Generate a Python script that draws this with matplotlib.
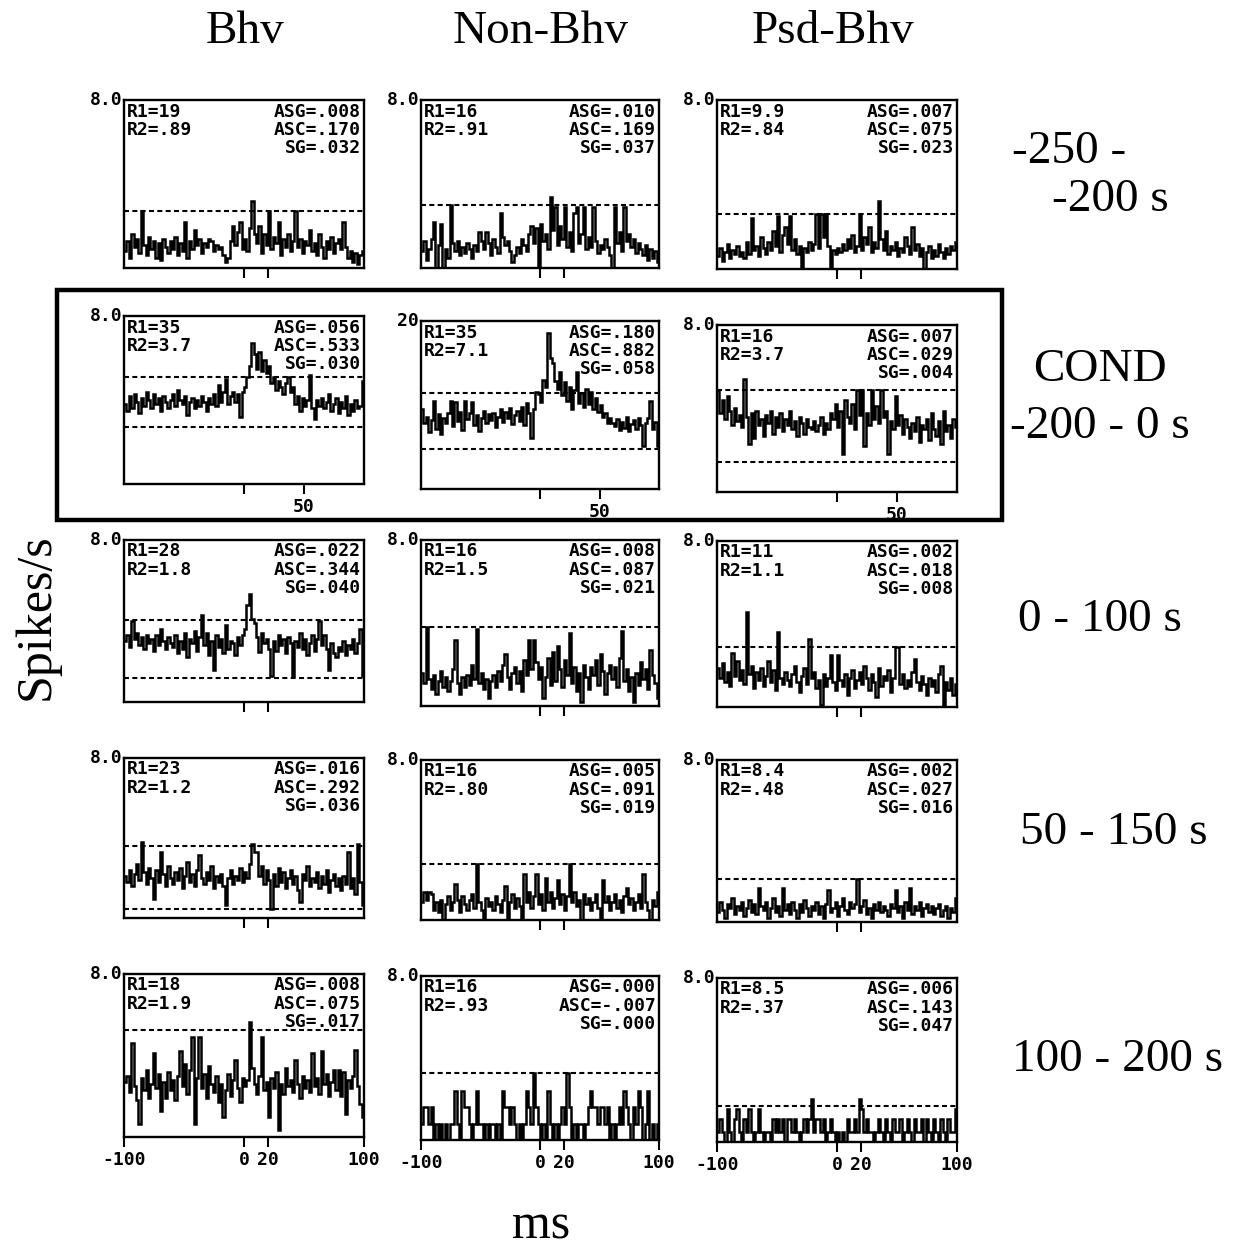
import matplotlib
matplotlib.use("Agg")
import matplotlib.pyplot as plt
import numpy as np
from matplotlib.patches import Rectangle

# ---------------- data ----------------
BIN_EDGES = np.arange(-100, 101, 2)   # ms, 2-ms bins

col_titles = ["Bhv", "Non-Bhv", "Psd-Bhv"]
row_labels = [["-250 -", "-200 s"], ["COND", "-200 - 0 s"], ["0 - 100 s"],
              ["50 - 150 s"], ["100 - 200 s"]]

ymax = [[8.0, 8.0, 8.0], [8.0, 20, 8.0], [8.0, 8.0, 8.0], [8.0, 8.0, 8.0], [8.0, 8.0, 8.0]]
ymax_labels = [["8.0", "8.0", "8.0"], ["8.0", "20", "8.0"], ["8.0", "8.0", "8.0"],
               ["8.0", "8.0", "8.0"], ["8.0", "8.0", "8.0"]]

# (upper, lower) significance bounds, spikes/s
bounds = [[(2.7, None), (3.0, None), (2.6, None)],
          [(5.1, 2.7), (11.4, 4.75), (4.9, 1.44)],
          [(4.07, 1.2), (3.8, None), (2.9, None)],
          [(3.6, 0.44), (2.8, None), (2.1, None)],
          [(5.25, None), (3.25, None), (1.75, None)]]

# (R1, R2, ASG, ASC, SG)
stats = [[("19", ".89", ".008", ".170", ".032"), ("16", ".91", ".010", ".169", ".037"), ("9.9", ".84", ".007", ".075", ".023")],
         [("35", "3.7", ".056", ".533", ".030"), ("35", "7.1", ".180", ".882", ".058"), ("16", "3.7", ".007", ".029", ".004")],
         [("28", "1.8", ".022", ".344", ".040"), ("16", "1.5", ".008", ".087", ".021"), ("11", "1.1", ".002", ".018", ".008")],
         [("23", "1.2", ".016", ".292", ".036"), ("16", ".80", ".005", ".091", ".019"), ("8.4", ".48", ".002", ".027", ".016")],
         [("18", "1.9", ".008", ".075", ".017"), ("16", ".93", ".000", "-.007", ".000"), ("8.5", ".37", ".006", ".143", ".047")]]

r1_bhv = [0.8,1.3,0.5,1.6,1.0,1.4,0.7,2.7,1.1,0.6, 1.5,0.9,1.3,0.5,1.2,0.4,1.4,1.0,0.7,1.3,
          0.9,1.5,0.6,1.2,0.8,2.2,0.5,1.3,0.9,1.8, 1.1,1.4,0.7,1.2,1.0,1.4,1.3,0.8,1.1,0.9,
          1.0,0.6,0.3,0.5,1.3,2.0,1.1,1.7,2.2,0.9, 1.4,0.8,1.9,3.2,1.6,1.2,2.0,0.7,1.6,1.1,
          2.7,0.9,1.5,1.2,2.2,0.6,1.4,1.0,1.6,0.8, 1.3,2.7,1.0,1.4,0.7,1.3,1.1,1.8,0.8,1.2,
          0.6,1.6,1.0,0.5,1.3,0.9,1.5,0.7,1.2,1.4, 0.9,2.2,1.0,0.5,0.8,0.3,0.7,0.2,0.6,0.8]
r1_non = [0.8,1.3,0.4,0.9,1.4,2.2,0.0,1.1,2.1,0.0, 0.9,0.5,3.0,1.2,0.8,1.3,0.6,1.0,0.7,1.2,
          0.9,0.5,1.1,0.8,1.7,1.3,0.9,1.7,1.2,0.6, 1.4,1.0,0.7,2.6,1.5,1.1,1.3,0.8,0.3,0.6,
          1.0,0.7,1.4,1.1,0.8,1.6,2.0,1.2,1.9,0.0, 2.1,1.3,1.6,0.9,3.4,1.8,2.9,1.1,2.0,1.4,
          2.9,1.0,1.7,0.8,2.6,2.9,1.2,1.6,2.9,0.9, 1.5,1.0,2.9,1.3,0.7,1.1,0.9,1.4,1.0,0.6,
          0.0,2.9,1.2,1.7,0.8,2.9,1.3,1.6,1.0,1.4, 0.7,1.2,0.9,0.6,1.1,0.4,0.9,0.5,0.8,0.3]
r1_psd = [0.6,1.0,0.4,0.8,1.2,0.5,0.9,0.7,1.1,0.6, 0.8,0.5,1.3,0.7,2.4,0.9,1.1,0.6,1.5,1.0,
          0.7,1.3,0.9,1.8,1.1,2.5,0.8,1.6,2.0,1.2, 2.5,0.9,1.4,0.7,1.1,0.0,1.0,0.8,1.3,0.9,
          1.2,2.6,1.0,2.6,1.5,2.6,1.1,0.0,0.9,0.7, 1.0,0.8,1.2,0.9,1.4,1.0,1.6,0.8,1.1,2.6,
          0.9,1.5,1.2,2.0,0.8,1.3,1.0,3.2,1.4,0.9, 1.8,0.7,1.1,0.9,1.3,0.6,1.0,0.8,1.5,1.1,
          0.7,2.0,0.9,1.2,0.6,1.0,0.0,0.8,1.1,0.5, 0.9,0.6,1.2,0.8,0.5,1.0,0.7,1.1,0.9,1.3]

r2_bhv = [3.8,3.5,4.2,3.6,4.3,3.9,3.4,4.1,3.7,4.4, 4.0,3.6,4.3,3.8,4.1,3.5,4.2,3.9,3.6,4.0,
          4.3,3.7,4.5,4.0,3.8,4.2,3.3,3.9,4.1,3.6, 4.0,3.7,4.2,3.9,3.5,4.1,3.8,4.3,3.7,4.7,
          3.9,4.4,5.0,3.8,4.2,4.4,3.9,4.3,3.2,4.4, 4.6,5.1,5.6,6.7,6.2,5.5,6.3,5.4,5.9,5.3,
          5.6,4.8,5.1,4.5,4.9,4.6,4.3,4.8,5.1,4.4, 4.6,3.8,4.2,3.5,4.1,3.7,4.0,5.2,3.6,3.1,
          4.0,3.7,4.1,3.6,3.9,4.3,3.5,3.8,4.1,3.4, 3.9,3.6,4.2,3.3,3.8,3.5,4.0,3.6,3.7,4.9]
r2_non = [9.5,7.8,8.6,6.8,8.2,10.5,7.2,8.9,6.6,8.4, 7.9,9.0,10.5,7.5,10.3,8.1,9.2,7.0,10.5,8.3,
          9.1,10.4,7.6,8.8,6.9,8.5,9.3,7.8,8.9,8.2, 9.0,7.4,8.6,9.5,8.0,9.2,8.4,9.6,7.7,8.8,
          9.3,8.1,9.8,7.6,10.2,9.0,6.1,9.5,11.5,11.3, 10.4,13.0,12.2,18.6,15.6,15.0,12.8,11.9,13.9,11.2,
          12.7,10.5,12.1,9.5,11.8,13.9,10.2,11.4,9.8,11.9, 10.1,11.5,9.5,10.8,9.2,10.0,8.6,9.0,7.9,8.5,
          7.8,7.5,8.3,7.0,8.0,7.3,8.6,6.9,7.7,8.2, 7.1,8.4,7.6,5.1,7.9,8.5,10.5,7.2,8.0,5.1]
r2_psd = [4.9,3.8,4.4,3.5,4.6,3.9,3.2,4.0,3.4,3.7, 3.1,5.4,3.6,2.3,3.8,2.6,3.9,3.2,3.5,2.7,
          3.7,3.3,3.9,2.8,3.6,3.1,3.8,2.9,3.5,3.2, 3.9,3.0,3.4,2.7,3.6,3.3,2.8,3.5,3.1,3.0,
          3.4,2.9,3.2,3.6,2.8,3.3,3.0,3.8,3.5,4.2, 3.1,3.9,1.8,4.4,3.6,3.3,4.2,3.0,4.9,3.7,
          4.9,2.2,3.8,3.2,4.9,3.5,4.1,3.3,4.9,3.6, 3.9,1.8,3.4,3.0,4.6,3.2,3.7,2.8,3.5,3.1,
          2.6,3.3,2.9,3.6,2.4,3.2,3.0,3.5,2.5,3.8, 3.0,2.7,3.4,2.3,3.9,2.9,3.2,2.6,3.5,3.1]

r3_bhv = [3.0,3.3,2.7,4.0,3.1,3.4,2.8,3.2,2.6,3.3, 2.9,3.1,2.5,3.3,2.8,3.6,3.0,2.6,3.2,2.9,
          2.7,3.3,2.4,3.0,2.6,3.4,2.2,3.1,2.9,3.5, 2.5,3.2,4.3,2.8,3.4,2.3,3.0,1.6,3.3,2.7,
          3.1,2.4,3.8,2.6,3.0,2.9,2.3,3.2,2.8,3.3, 3.6,4.8,5.35,4.1,3.9,3.2,2.45,3.4,2.9,3.1,
          2.6,1.3,3.0,2.5,3.3,2.8,3.1,2.4,3.2,2.9, 1.3,3.0,2.7,3.4,2.6,3.1,2.3,2.9,3.3,2.5,
          3.1,4.0,2.8,3.3,2.6,1.6,2.9,2.4,2.2,2.7, 2.5,3.0,2.3,2.8,2.6,3.1,2.4,2.9,3.6,1.3]
r3_non = [1.6,1.1,3.8,1.3,0.8,1.5,0.6,1.2,1.7,0.9, 1.4,0.7,1.2,1.8,3.2,1.1,0.6,1.4,0.9,1.5,
          1.0,2.0,1.3,3.7,1.1,1.6,0.8,1.3,0.4,1.2, 1.5,0.9,1.7,1.2,2.0,2.5,1.4,0.8,1.6,1.9,
          1.1,1.7,0.7,2.2,1.5,3.2,1.8,3.2,2.1,1.3, 1.9,0.4,1.4,2.3,1.0,2.6,1.2,2.9,1.8,0.9,
          2.2,1.5,3.5,1.1,1.9,0.7,1.6,0.2,2.0,1.4, 0.8,1.9,1.5,2.2,1.0,2.5,1.7,0.6,1.6,2.0,
          1.3,1.9,0.9,2.3,3.6,1.2,1.8,0.7,1.4,0.2, 1.6,1.0,2.1,1.3,1.8,0.8,2.7,1.5,1.1,0.4]
r3_psd = [1.9,1.4,2.1,1.2,1.7,1.0,2.6,1.5,2.2,1.3, 1.8,1.1,4.6,1.6,2.0,0.9,1.7,1.3,1.9,1.0,
          1.5,2.2,1.2,1.8,0.8,3.6,1.4,1.1,1.7,1.3, 1.0,1.6,2.0,1.2,0.7,1.5,1.9,1.1,3.3,1.4,
          1.7,0.9,1.3,0.1,1.6,1.0,1.4,2.5,1.2,0.8, 2.5,1.3,1.0,1.6,0.6,1.4,1.8,0.9,1.3,1.7,
          1.1,2.0,1.4,0.8,1.6,1.2,0.5,1.9,1.0,1.5, 1.3,1.8,0.7,1.4,2.9,2.9,1.1,1.6,0.9,1.3,
          1.0,1.7,2.3,1.2,0.8,1.5,1.1,0.6,1.4,1.0, 1.3,0.7,1.6,2.0,0.1,1.2,0.8,1.4,0.6,1.1]

r4_bhv = [2.1,1.8,2.4,1.6,2.2,2.7,1.9,3.8,2.3,1.7, 2.5,2.0,0.97,2.4,1.8,3.3,2.2,1.6,2.6,2.0,
          1.7,2.3,1.9,2.5,1.5,2.1,2.8,1.8,2.2,1.6, 2.4,3.15,2.0,1.7,2.3,1.9,2.6,1.5,2.1,1.8,
          2.2,1.6,0.64,2.0,2.4,1.7,2.1,1.9,2.5,1.8, 2.3,2.0,2.7,3.7,3.3,3.3,2.1,2.6,1.7,2.4,
          1.9,0.47,2.2,1.6,2.5,1.8,2.3,1.5,2.0,2.4, 1.7,2.1,1.4,0.8,2.2,1.9,2.6,1.6,2.0,1.8,
          2.3,1.5,2.1,1.7,2.4,1.3,1.9,2.2,1.6,2.0, 1.4,2.1,1.7,3.3,1.5,2.0,1.2,3.7,1.8,0.64]
r4_non = [0.9,1.4,1.0,1.4,1.3,0.5,0.9,0.4,1.0,0.0, 0.8,1.2,0.5,0.9,1.8,1.0,0.4,1.2,0.8,0.5,
          1.0,1.3,0.6,2.8,0.9,0.5,0.0,1.1,0.7,0.9, 0.5,1.2,0.8,0.4,1.0,1.7,0.0,0.9,1.3,0.6,
          1.1,0.7,0.0,2.3,0.9,1.4,0.6,1.2,2.3,0.8, 1.3,0.5,2.1,0.9,1.4,0.6,1.1,2.0,0.8,1.3,
          0.5,1.2,2.8,0.9,1.4,0.7,1.0,0.0,1.3,0.8, 1.1,0.5,0.9,1.3,0.6,0.0,2.0,0.9,1.2,0.5,
          0.9,1.3,0.6,1.0,0.4,1.2,1.6,0.8,1.1,0.5, 0.9,1.3,0.6,2.3,0.9,0.5,0.0,1.0,0.7,1.4]
r4_psd = [0.5,1.0,0.6,0.2,0.9,0.7,1.2,0.4,0.8,0.6, 1.0,0.3,0.7,1.1,0.5,0.9,0.4,1.7,0.8,0.6,
          1.0,0.2,0.7,1.2,0.5,0.8,0.3,1.7,0.6,0.9, 0.4,1.0,0.6,0.2,0.9,0.5,1.1,0.7,0.3,0.8,
          0.6,1.0,0.4,0.8,0.2,0.9,1.6,0.5,0.7,1.0, 0.3,0.8,1.2,0.6,0.4,1.0,0.7,0.9,2.1,0.5,
          0.8,1.1,0.4,0.7,0.2,0.9,0.6,1.0,0.5,0.8, 0.6,0.3,0.9,0.7,1.6,0.5,0.8,0.2,1.0,0.6,
          1.7,0.4,0.8,0.6,1.0,0.3,0.7,0.9,0.5,0.8, 0.4,0.7,0.9,0.3,0.6,0.8,0.2,0.7,0.5,1.2]

r5_bhv = [2.7,3.0,2.2,4.6,2.5,1.8,0.66,2.9,2.3,3.3, 1.9,2.6,4.1,2.4,3.1,1.3,2.7,1.9,3.2,2.3,
          2.8,1.8,3.0,4.2,2.5,3.6,2.1,3.3,4.9,0.66, 2.9,4.9,2.4,3.1,1.9,3.5,2.6,2.2,3.0,1.7,
          2.6,1.0,2.3,3.1,2.0,2.8,3.8,2.4,1.7,2.9, 2.5,2.8,5.65,3.4,2.6,2.1,3.0,4.9,2.3,2.7,
          1.0,2.9,2.4,3.2,0.33,2.6,2.1,3.4,2.5,2.8, 2.2,3.8,2.6,1.9,3.0,2.4,2.8,2.2,4.1,2.5,
          2.9,2.1,4.2,2.6,3.1,2.0,2.7,3.3,2.3,3.3, 2.0,3.2,1.15,2.8,2.4,3.0,4.25,2.5,1.6,1.0]
r5_non = [0.8,1.6,1.6,0.8,1.6,0.0,0.8,0.0,0.8,0.0, 0.8,0.0,0.8,0.8,2.4,0.8,0.0,2.4,1.6,1.6,
          0.8,0.0,0.8,2.4,0.8,0.8,0.0,0.8,0.0,0.8, 0.8,0.0,0.8,0.0,2.4,1.6,1.6,0.8,1.6,0.8,
          0.0,0.8,0.0,0.8,2.4,1.6,0.8,3.25,1.6,0.8, 0.0,0.8,0.0,2.4,0.8,0.0,0.8,0.0,0.8,1.6,
          0.8,3.25,1.6,0.0,0.8,0.0,0.8,0.8,0.0,0.8, 1.6,2.4,1.6,1.6,0.8,1.6,1.6,0.8,1.6,0.0,
          0.8,0.0,0.8,1.6,0.8,2.4,1.6,0.8,0.0,1.6, 0.8,2.4,1.6,0.0,0.8,2.4,0.0,0.8,0.0,0.8]
r5_psd = [0.5,1.1,0.5,0.0,1.6,0.5,0.0,1.1,1.6,0.5, 0.0,1.1,0.5,1.6,0.5,0.0,0.5,1.6,0.5,0.0,
          0.5,0.5,0.0,1.1,0.5,1.1,0.5,1.1,0.0,1.1, 1.1,0.5,1.1,0.5,0.0,0.5,1.1,0.5,1.1,2.1,
          0.5,1.1,1.1,0.5,1.1,0.0,0.5,1.1,0.5,0.0, 0.5,0.0,0.5,0.0,1.1,0.5,0.5,1.1,0.5,2.1,
          1.6,0.5,1.1,0.5,0.5,0.0,0.5,1.1,0.5,0.0, 1.1,0.5,0.0,1.1,0.5,0.5,1.1,0.0,0.5,1.1,
          0.5,0.0,1.1,0.5,0.5,1.1,0.0,1.1,0.5,0.0, 1.1,0.5,0.0,1.1,0.5,0.0,1.1,0.5,0.5,1.6]

series = [[r1_bhv, r1_non, r1_psd], [r2_bhv, r2_non, r2_psd], [r3_bhv, r3_non, r3_psd],
          [r4_bhv, r4_non, r4_psd], [r5_bhv, r5_non, r5_psd]]

# ---------------- layout (pixels) ----------------
W, H = 1238, 1248
fig = plt.figure(figsize=(W / 100, H / 100), dpi=100)
fig.patch.set_facecolor("white")

col_lr = [(124, 364), (421, 659), (717, 957)]
row_tb = [[(100, 268), (100, 268), (100, 269)],
          [(316, 484), (321, 489), (325, 492)],
          [(540, 702), (540, 706), (541, 707)],
          [(758, 918), (760, 920), (760, 922)],
          [(974, 1137), (976, 1140), (978, 1142)]]

MONO = ["DejaVu Sans Mono"]
SERIF = ["Liberation Serif", "DejaVu Serif"]
fs_mono = 13

for r in range(5):
    for c in range(3):
        l, rr = col_lr[c]
        t, b = row_tb[r][c]
        ax = fig.add_axes([l / W, 1 - b / H, (rr - l) / W, (b - t) / H])
        vals = series[r][c]
        ax.stairs(vals, BIN_EDGES, color="black", linewidth=1.8, baseline=None)
        up, lo = bounds[r][c]
        for yv in (up, lo):
            if yv is not None:
                ax.axhline(yv, color="black", linewidth=1.5, linestyle=(0, (2.4, 1.6)))
        ax.set_xlim(-100, 100)
        ax.set_ylim(0, ymax[r][c])
        for s in ax.spines.values():
            s.set_linewidth(1.7)
        ax.set_yticks([])
        if r == 1:
            ax.set_xticks([0, 50])
            ax.set_xticklabels(["", "50"])
        elif r == 4:
            ax.set_xticks([-100, 0, 20, 100])
            ax.set_xticklabels(["-100", "0", "20", "100"])
        else:
            ax.set_xticks([0, 20])
            ax.set_xticklabels(["", ""])
        ax.tick_params(axis="x", direction="out", length=7, width=1.5, pad=3,
                       labelsize=fs_mono)
        for lab in ax.get_xticklabels():
            lab.set_family(MONO)
            lab.set_fontweight("bold")
        R1, R2, ASG, ASC, SG = stats[r][c]
        ax.text(0.012, 0.985, f"R1={R1}\nR2={R2}", transform=ax.transAxes,
                ha="left", va="top", family=MONO, fontsize=fs_mono,
                fontweight="bold", linespacing=1.02)
        ax.text(0.988, 0.985, f"ASG={ASG}\nASC={ASC}\nSG={SG}", transform=ax.transAxes,
                ha="right", va="top", family=MONO, fontsize=fs_mono,
                fontweight="bold", linespacing=1.02, multialignment="right")
        ax.text(-0.008, 1.0, ymax_labels[r][c], transform=ax.transAxes,
                ha="right", va="center", family=MONO, fontsize=fs_mono,
                fontweight="bold")

# column titles
for x, s in zip([245, 541, 833], col_titles):
    fig.text(x / W, 1 - 32 / H, s, ha="center", va="center", family=SERIF, fontsize=34)

# row labels (right side)
fig.text(1012 / W, 1 - 152 / H, row_labels[0][0], ha="left", va="center", family=SERIF, fontsize=34)
fig.text(1052 / W, 1 - 200 / H, row_labels[0][1], ha="left", va="center", family=SERIF, fontsize=34)
fig.text(1100 / W, 1 - 370 / H, row_labels[1][0], ha="center", va="center", family=SERIF, fontsize=34)
fig.text(1100 / W, 1 - 427 / H, row_labels[1][1], ha="center", va="center", family=SERIF, fontsize=34)
fig.text(1100 / W, 1 - 620 / H, row_labels[2][0], ha="center", va="center", family=SERIF, fontsize=34)
fig.text(1114 / W, 1 - 833 / H, row_labels[3][0], ha="center", va="center", family=SERIF, fontsize=34)
fig.text(1118 / W, 1 - 1060 / H, row_labels[4][0], ha="center", va="center", family=SERIF, fontsize=34)

# axis labels
fig.text(541 / W, 1 - 1226 / H, "ms", ha="center", va="center", family=SERIF, fontsize=36)
fig.text(36 / W, 1 - 617 / H, "Spikes/s", ha="center", va="center", rotation=90,
         family=SERIF, fontsize=36)

# box around the conditioning row
fig.patches.append(Rectangle((57 / W, 1 - 520 / H), (1002 - 57) / W, (520 - 290) / H,
                             transform=fig.transFigure, fill=False, edgecolor="black",
                             linewidth=3.2))

fig.savefig("out.png", dpi=100, facecolor="white")
